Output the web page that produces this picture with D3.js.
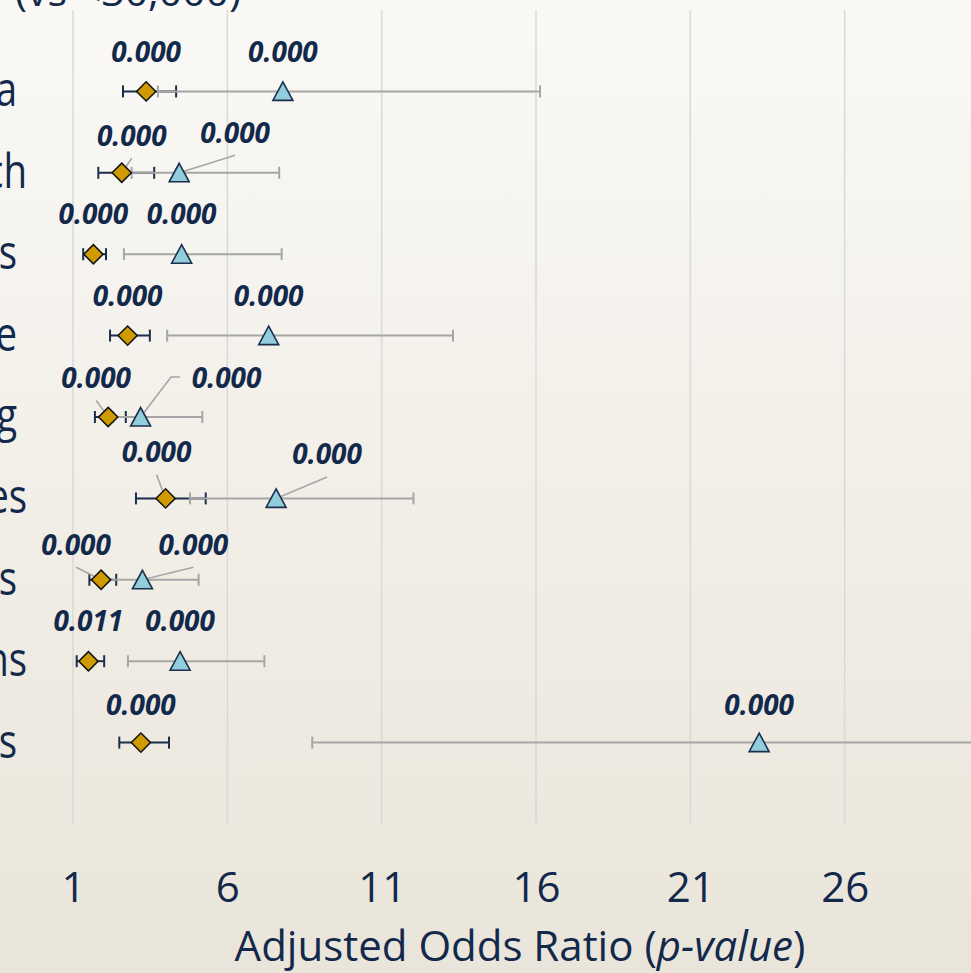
<!DOCTYPE html>
<html>
<head>
<meta charset="utf-8">
<script src="https://cdn.jsdelivr.net/npm/d3@7"></script>
<style>
html,body{margin:0;padding:0;overflow:hidden;}
body{width:971px;height:973px;}
text{font-family:"Open Sans",sans-serif;fill:#13294b;}
</style>
</head>
<body>
<div id="main"></div>
<script>
/////////////////////////////////////
// rows, top to bottom (names are cut off at the left edge of the picture)
var categories=['a','ch','s','e','g','es','s','ns','s'];
var rowValue=[9,8,7,6,5,4,3,2,1];

// series A (diamonds)
var orA=[3.37,2.58,1.66,2.77,2.14,4.00,1.91,1.50,3.20];
var loA=[2.62,1.82,1.33,2.20,1.71,3.04,1.53,1.12,2.50];
var hiA=[4.34,3.63,2.07,3.49,2.71,5.30,2.40,2.01,4.11];
var pA=['0.000','0.000','0.000','0.000','0.000','0.000','0.000','0.011','0.000'];

// series B (triangles)
var orB=[7.80,4.44,4.52,7.34,3.19,7.58,3.25,4.47,23.23];
var loB=[3.75,2.90,2.65,4.05,2.30,4.79,2.00,2.78,8.75];
var hiB=[16.13,7.68,7.76,13.31,5.19,12.03,5.07,7.20,30.20];
var pB=['0.000','0.000','0.000','0.000','0.000','0.000','0.000','0.000','0.000'];

var gridTicks=[1,6,11,16,21,26,31];
var tickLabels=[1,6,11,16,21,26];
var xTitle='Adjusted Odds Ratio (';
var title='(vs <30,000)';
/////////////////////////////////////

var width=971, height=973;

var svg=d3.select('#main')
  .append('svg')
    .attr('width',width)
    .attr('height',height);

var defs=svg.append('defs');
var grad=defs.append('linearGradient')
    .attr('id','bg')
    .attr('x1',0).attr('y1',0).attr('x2',0).attr('y2',1);
grad.append('stop').attr('offset','0%').attr('stop-color','#faf9f6');
grad.append('stop').attr('offset','100%').attr('stop-color','#eae5da');
svg.append('rect')
    .attr('width',width)
    .attr('height',height)
    .attr('fill','url(#bg)');

var x=d3.scaleLinear().domain([1,31]).range([73,999]);
var y=d3.scaleLinear().domain([0,10]).range([824,10]);

// vertical gridlines
svg.append('g')
  .selectAll('line')
    .data(gridTicks)
  .enter().append('line')
    .attr('x1',function(d){return x(d)})
    .attr('x2',function(d){return x(d)})
    .attr('y1',y(10))
    .attr('y2',y(0))
    .attr('stroke','#d9d9d9')
    .attr('stroke-width',1.5);

// x axis tick labels
var xAxis=d3.axisBottom(x).tickValues(tickLabels).tickSize(0).tickPadding(0).tickFormat(d3.format('d'));
var gx=svg.append('g')
    .attr('transform','translate(0,872)')
    .call(xAxis);
gx.select('.domain').remove();
gx.selectAll('text')
    .attr('dy',null)
    .attr('y',30)
    .style('font-size','42px')
    .style('font-family','"Open Sans",sans-serif')
    .attr('fill','#13294b');

var axTitle=svg.append('text')
    .attr('x',520)
    .attr('y',961)
    .attr('text-anchor','middle')
    .style('font-size','42px');
axTitle.append('tspan').text(xTitle);
axTitle.append('tspan').style('font-style','italic').text('p-value');
axTitle.append('tspan').text(')');

// title, mostly above the crop
svg.append('text')
    .attr('x',15)
    .attr('y',6)
    .style('font-size','41px')
    .text(title);

// category labels (cut at the left edge)
var labelEnd=[17,27,17,17,17,27,17,27,17];
svg.append('g')
  .selectAll('text')
    .data(categories)
  .enter().append('text')
    .attr('transform',function(d,i){return 'translate('+labelEnd[i]+','+(y(rowValue[i])+15)+') scale(0.8,1)'})
    .attr('text-anchor','end')
    .style('font-size','48px')
    .text(function(d){return d});

var rows=categories.map(function(c,i){
  return {i:i,v:rowValue[i],orA:orA[i],loA:loA[i],hiA:hiA[i],orB:orB[i],loB:loB[i],hiB:hiB[i],pA:pA[i],pB:pB[i]};
});

function errorBars(g,lo,hi,color){
  var e=g.selectAll('g')
      .data(rows)
    .enter().append('g')
      .attr('stroke',color)
      .attr('stroke-width',2);
  e.append('line')
      .attr('x1',function(d){return x(d[lo])})
      .attr('x2',function(d){return x(d[hi])})
      .attr('y1',function(d){return y(d.v)})
      .attr('y2',function(d){return y(d.v)});
  [lo,hi].forEach(function(k){
    e.append('line')
        .attr('x1',function(d){return x(d[k])})
        .attr('x2',function(d){return x(d[k])})
        .attr('y1',function(d){return y(d.v)-6})
        .attr('y2',function(d){return y(d.v)+6});
  });
}

errorBars(svg.append('g'),'loA','hiA','#1b2f4d');
errorBars(svg.append('g'),'loB','hiB','#a6a6a6');

// label offsets from marker (dx, baseline dy) and leader lines
var offA=[[0,-29],[10,-27],[0,-30],[0,-30],[-12,-29],[-9,-36],[-25,-25],[0,-30],[0,-28]];
var offB=[[0,-29],[56,-30],[0,-30],[0,-30],[86,-29],[51,-34],[51,-25],[0,-30],[0,-28]];
var leadA=[0,1,0,0,1,1,1,0,0];
var leadB=[0,1,0,0,2,1,1,0,0];

var leaders=svg.append('g')
    .attr('stroke','#a6a6a6')
    .attr('stroke-width',1.6)
    .attr('fill','none');

// diamonds
svg.append('g')
  .selectAll('path')
    .data(rows)
  .enter().append('path')
    .attr('d',d3.symbol(d3.symbolSquare,185))
    .attr('transform',function(d){return 'translate('+x(d.orA)+','+y(d.v)+') rotate(45)'})
    .attr('fill','#cf9b00')
    .attr('stroke','#111111')
    .attr('stroke-width',1.5);

// triangles
var tri='M0,-9.5L10,9L-10,9Z';
svg.append('g')
  .selectAll('path')
    .data(rows)
  .enter().append('path')
    .attr('d',tri)
    .attr('transform',function(d){return 'translate('+x(d.orB)+','+y(d.v)+')'})
    .attr('fill','#92cddc')
    .attr('stroke','#1b2f4d')
    .attr('stroke-width',1.6);

function drawLeader(px,py,cx,by,kind){
  if(kind==1){
    leaders.append('line')
        .attr('x1',cx).attr('y1',by+12.5)
        .attr('x2',px).attr('y2',py);
  } else if(kind==2){
    var left=cx-36.5, mid=by-11;
    leaders.append('path')
        .attr('d','M'+(left-10)+','+mid+'L'+(left-19)+','+mid+'L'+px+','+py);
  }
}

rows.forEach(function(d){
  var px=x(d.orA), py=y(d.v);
  drawLeader(px,py,px+offA[d.i][0],py+offA[d.i][1],leadA[d.i]);
  px=x(d.orB);
  drawLeader(px,py,px+offB[d.i][0],py+offB[d.i][1],leadB[d.i]);
});

// p-value labels
var labels=svg.append('g')
    .style('font-size','28px')
    .style('font-weight','700')
    .style('font-style','italic')
    .attr('text-anchor','middle');

labels.selectAll('.pa')
    .data(rows)
  .enter().append('text')
    .attr('class','pa')
    .attr('x',function(d){return x(d.orA)+offA[d.i][0]})
    .attr('y',function(d){return y(d.v)+offA[d.i][1]})
    .text(function(d){return d.pA});

labels.selectAll('.pb')
    .data(rows)
  .enter().append('text')
    .attr('class','pb')
    .attr('x',function(d){return x(d.orB)+offB[d.i][0]})
    .attr('y',function(d){return y(d.v)+offB[d.i][1]})
    .text(function(d){return d.pB});
</script>
</body>
</html>
